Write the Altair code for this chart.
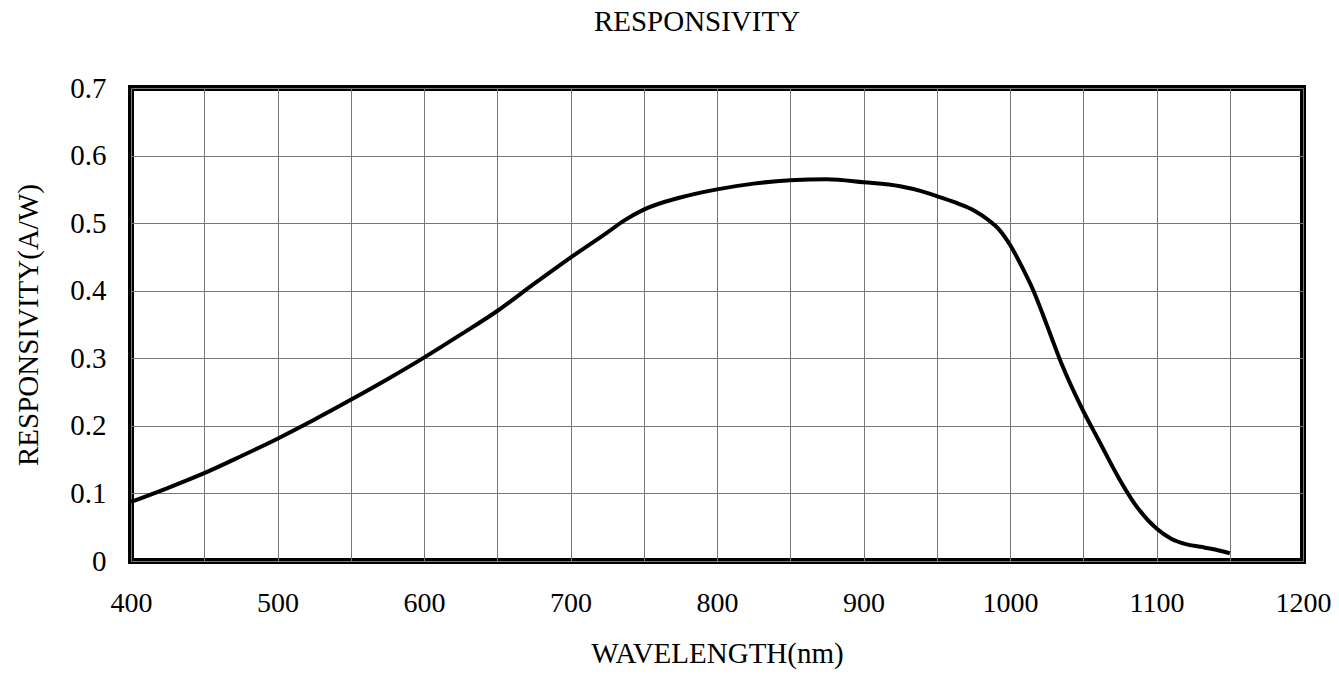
import altair as alt
import pandas as pd

wavelength = [400, 425, 450, 475, 500, 525, 550, 575, 600, 625, 650, 675, 700, 725, 736, 750,
              775, 800, 825, 850, 875, 900, 925, 940, 950, 962, 976, 985, 992, 1000, 1008,
              1016, 1025, 1035, 1050, 1060, 1075, 1085, 1100, 1110, 1120, 1130, 1140, 1150]
responsivity = [0.0875, 0.108, 0.130, 0.155, 0.181, 0.209, 0.2385, 0.269, 0.301, 0.335, 0.370,
                0.410, 0.449, 0.486, 0.503, 0.520, 0.538, 0.550, 0.5585, 0.5635, 0.565, 0.5605,
                0.5545, 0.547, 0.540, 0.531, 0.518, 0.505, 0.492, 0.468, 0.436, 0.400, 0.350,
                0.293, 0.222, 0.181, 0.120, 0.085, 0.048, 0.033, 0.025, 0.021, 0.017, 0.0115]

x_grid = list(range(400, 1201, 50))
y_ticks = [0, 0.1, 0.2, 0.3, 0.4, 0.5, 0.6, 0.7]

df = pd.DataFrame({"wl": wavelength, "r": responsivity})

FONT = "Liberation Serif"

chart = alt.Chart(df).mark_line(
    color="black", strokeWidth=4, interpolate="monotone"
).encode(
    x=alt.X("wl:Q", scale=alt.Scale(domain=[400, 1200], nice=False, zero=False),
            axis=alt.Axis(values=x_grid, title="WAVELENGTH(nm)",
                          labelExpr="datum.value % 100 == 0 ? format(datum.value, 'd') : ''",
                          grid=True, gridColor="#777777", gridWidth=1, gridOpacity=1,
                          ticks=False, domain=False, labelPadding=28, titlePadding=22,
                          labelFont=FONT, labelFontSize=28, labelColor="black",
                          titleFont=FONT, titleFontSize=29, titleFontWeight="normal",
                          titleColor="black", labelFlush=False, labelBound=False)),
    y=alt.Y("r:Q", scale=alt.Scale(domain=[0, 0.7], nice=False),
            axis=alt.Axis(values=y_ticks, title="RESPONSIVITY(A/W)",
                          labelExpr="datum.value == 0 ? '0' : format(datum.value, '.1f')",
                          grid=True, gridColor="#777777", gridWidth=1, gridOpacity=1,
                          ticks=False, domain=False, labelPadding=25, titlePadding=26,
                          labelFont=FONT, labelFontSize=29, labelColor="black",
                          titleFont=FONT, titleFontSize=29, titleFontWeight="normal",
                          titleColor="black", labelFlush=False)),
).properties(
    width=1172,
    height=473,
    title=alt.TitleParams("RESPONSIVITY", font=FONT, fontSize=29, fontWeight="normal",
                          color="black", anchor="middle", dx=-20, offset=37),
    autosize=alt.AutoSizeParams(type="none"),
    padding={"left": 123, "top": 80, "right": 28, "bottom": 111},
).configure_view(
    stroke="black", strokeWidth=6
)

chart.save("out.html", embed_options={"renderer": "svg", "actions": False})
